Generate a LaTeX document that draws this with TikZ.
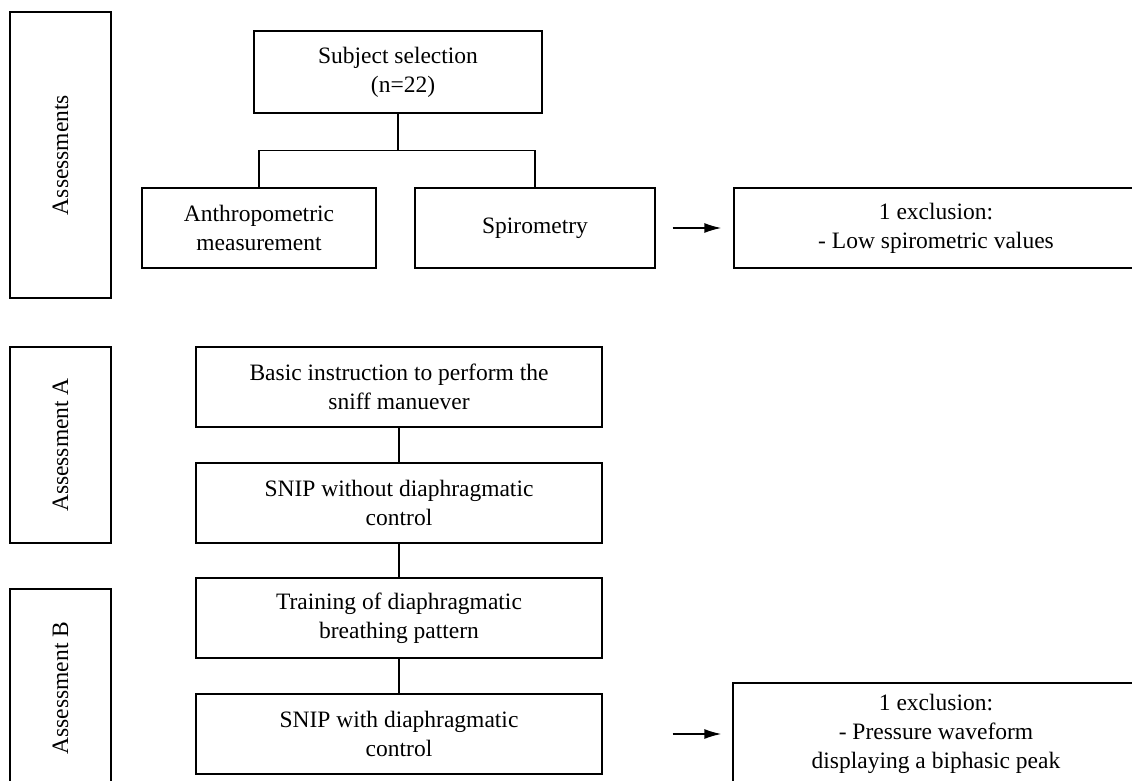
\documentclass[tikz,border=0pt]{standalone}
\usepackage{fontspec}
\setmainfont{Liberation Serif}
\usetikzlibrary{calc,arrows.meta}
\begin{document}
\begin{tikzpicture}[x=1pt,y=-1pt,
    box/.style={draw,line width=1.4pt,align=center,inner sep=0pt,
      font=\fontsize{23.5}{29}\selectfont},
    phase/.style={box,rotate=90,minimum height=101pt},
    step box/.style={box,minimum width=406pt,minimum height=80pt},
    arr/.style={line width=1.4pt,-{Latex[length=17pt,width=10pt]}}]
  \clip (0,0) rectangle (1132,781);
  % phases on the left
  \node[phase,minimum width=286pt] (pre) at (60.5,155) {Assessments};
  \node[phase,minimum width=196pt] (phA) at (60.5,445) {Assessment A};
  \node[phase,minimum width=198pt] (phB) at (60.5,688) {Assessment B};
  % assessments
  \node[box,minimum width=288pt,minimum height=82pt] (sel) at (398,72)
    {Subject selection\\\hspace*{10pt}(n=22)};
  \node[box,minimum width=234pt,minimum height=80pt] (anthro) at (259,228)
    {Anthropometric\\measurement};
  \node[box,minimum width=240pt,minimum height=80pt] (spiro) at (535,228)
    {Spirometry};
  \node[box,minimum width=404pt,minimum height=80pt] (excl1) at (936,228)
    {1 exclusion:\\- Low spirometric values};
  \coordinate (fork) at ($(sel.south)!.5!(sel.south |- anthro.north)$);
  \draw[line width=1.4pt] (sel.south) -- (fork);
  \draw[line width=1.4pt] (anthro.north) |- (fork) -| (spiro.north);
  \draw[arr,shorten <=17pt,shorten >=12pt] (spiro) -- (excl1);
  % assessment A and B
  \node[step box] (basic) at (399,387) {Basic instruction to perform the\\sniff manuever};
  \node[step box] (snipA) at (399,503) {SNIP without diaphragmatic\\control};
  \node[step box] (train) at (399,618) {Training of diaphragmatic\\breathing pattern};
  \node[step box] (snipB) at (399,734) {SNIP with diaphragmatic\\control};
  \node[box,minimum width=406pt,minimum height=102pt] (excl2) at (936,734)
    {1 exclusion:\\- Pressure waveform\\displaying a biphasic peak};
  \draw[line width=1.4pt] (basic) -- (snipA) -- (train) -- (snipB);
  \draw[arr,shorten <=70pt,shorten >=11pt] (snipB) -- (excl2);
\end{tikzpicture}
\end{document}
